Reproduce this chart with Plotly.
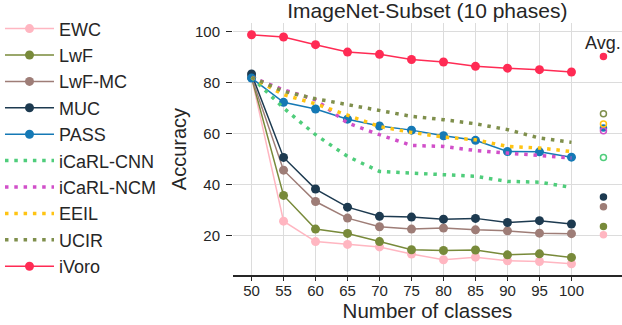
import plotly.graph_objects as go

# Data
classes = [50, 55, 60, 65, 70, 75, 80, 85, 90, 95, 100]
avg_x = 105

methods = ['EWC', 'LwF', 'LwF-MC', 'MUC', 'PASS', 'iCaRL-CNN', 'iCaRL-NCM', 'EEIL', 'UCIR', 'iVoro']

ewc = [82.0, 25.6, 17.6, 16.5, 15.5, 12.7, 10.5, 11.5, 10.1, 9.8, 8.9]
lwf = [82.0, 35.7, 22.5, 20.8, 17.6, 14.4, 14.1, 14.3, 12.4, 12.8, 11.4]
lwf_mc = [82.0, 45.6, 33.3, 26.8, 23.4, 22.5, 22.9, 22.2, 21.8, 20.9, 20.7]
muc = [83.3, 50.6, 38.2, 31.1, 27.5, 27.2, 26.4, 26.7, 25.1, 25.8, 24.5]
pass_ = [81.7, 72.2, 69.6, 65.6, 62.9, 61.3, 59.1, 57.3, 52.9, 52.8, 50.7]
icarl_cnn = [82.0, 70.0, 59.5, 51.0, 45.1, 44.5, 44.1, 43.2, 41.2, 40.9, 38.8]
icarl_ncm = [82.0, 77.1, 73.2, 64.1, 59.5, 55.3, 54.9, 53.3, 52.3, 51.3, 50.4]
eeil = [82.0, 75.2, 71.6, 67.3, 62.7, 60.4, 58.6, 57.5, 54.9, 54.3, 52.9]
ucir = [82.0, 76.5, 73.6, 71.3, 69.3, 66.7, 65.4, 63.8, 61.5, 58.2, 56.5]
ivoro = [98.7, 97.8, 94.8, 91.9, 91.0, 89.0, 88.0, 86.3, 85.6, 85.0, 84.1]

averages = [20.3, 23.5, 31.3, 35.1, 62.1, 50.6, 61.1, 63.7, 67.7, 90.2]

series = [ewc, lwf, lwf_mc, muc, pass_, icarl_cnn, icarl_ncm, eeil, ucir, ivoro]
colors = ['#ffb6c1', '#788a3a', '#9e7d77', '#1d3a50', '#1579b5',
          '#4fcd7b', '#d14fc9', '#ffc413', '#7f8f4c', '#ff2b54']
dotted = [False, False, False, False, False, True, True, True, True, False]

font = 'Liberation Sans, Arial, sans-serif'
ink = '#262626'

fig = go.Figure()

for name, ys, col, dot in zip(methods, series, colors, dotted):
    if dot:
        fig.add_trace(go.Scatter(x=classes, y=ys, name=name, mode='lines',
                                 line=dict(color=col, width=3.5, dash='3.5px,5.8px')))
    else:
        fig.add_trace(go.Scatter(x=classes, y=ys, name=name, mode='lines+markers',
                                 line=dict(color=col, width=1.5),
                                 marker=dict(color=col, size=9)))

# Average column
for name, av, col, dot in zip(methods, averages, colors, dotted):
    fig.add_trace(go.Scatter(x=[avg_x], y=[av], mode='markers', showlegend=False,
                             marker=dict(color=col, size=6,
                                         symbol='circle-open' if dot else 'circle',
                                         line=dict(color=col, width=1.5))))

fig.add_annotation(x=avg_x, y=95.6, text='Avg.', showarrow=False,
                   font=dict(size=18, color=ink, family=font))

fig.update_layout(
    width=622, height=325,
    margin=dict(l=233, r=0, t=23, b=50, autoexpand=False),
    plot_bgcolor='white', paper_bgcolor='white',
    font=dict(family=font, color=ink),
    title=dict(text='ImageNet-Subset (10 phases)', x=0.687, xanchor='center',
               y=0.99, yanchor='top', font=dict(size=21, color=ink)),
    legend=dict(x=-0.599, xanchor='left', y=1.05, yanchor='top',
                font=dict(size=18, color=ink), bgcolor='rgba(0,0,0,0)',
                tracegroupgap=0, itemwidth=49, maxheight=1),
)

fig.update_xaxes(range=[47.1, 107.9], tickvals=classes, showgrid=True,
                 gridcolor='#dcdcdc', gridwidth=1.3, zeroline=False,
                 showline=True, linecolor=ink, linewidth=1.5,
                 ticks='outside', ticklen=4, tickcolor=ink, ticklabelstandoff=-3,
                 tickfont=dict(size=15, color=ink),
                 title=dict(text='Number of classes', font=dict(size=20.5, color=ink), standoff=2))
fig.update_yaxes(range=[4.5, 103.3], tickvals=[20, 40, 60, 80, 100], showgrid=True,
                 gridcolor='#dcdcdc', gridwidth=1.3, zeroline=False, showline=False,
                 ticks='outside', ticklen=6, tickcolor=ink, ticklabelstandoff=3,
                 tickfont=dict(size=15, color=ink),
                 title=dict(text='Accuracy', font=dict(size=20, color=ink), standoff=2))

# drop the default page margin so the figure sits at the window's corner
fig.write_html("out.html", config={'displayModeBar': False},
               post_script="document.body.style.margin='0';")
